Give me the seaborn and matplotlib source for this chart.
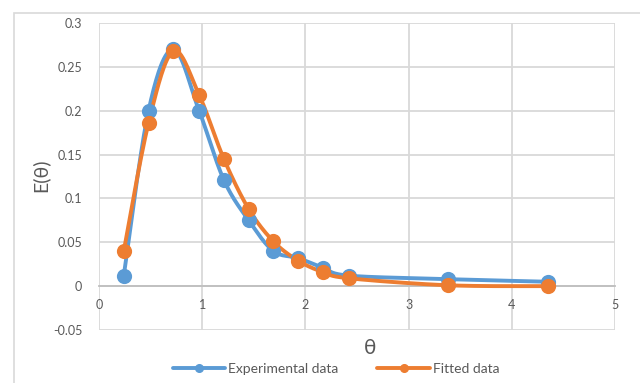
import numpy as np
import pandas as pd
import matplotlib
matplotlib.use("Agg")
import matplotlib.pyplot as plt
import seaborn as sns
from matplotlib.lines import Line2D
from matplotlib.patches import Rectangle

# ---- data ----
theta = [0.24, 0.48, 0.72, 0.97, 1.21, 1.45, 1.69, 1.93, 2.17, 2.42, 3.38, 4.35]
exp_E = [0.012, 0.200, 0.270, 0.200, 0.121, 0.075, 0.040, 0.032, 0.021, 0.012, 0.008, 0.005]
fit_E = [0.040, 0.186, 0.268, 0.218, 0.145, 0.088, 0.051, 0.029, 0.016, 0.009, 0.001, 0.000]
series_names = ["Experimental data", "Fitted data"]
x_ticks = [0, 1, 2, 3, 4, 5]
y_ticks = [-0.05, 0, 0.05, 0.1, 0.15, 0.2, 0.25, 0.3]
x_label = "θ"
y_label = "E(θ)"

BLUE = "#5B9BD5"
ORANGE = "#ED7D31"
TXT = "#595959"
GRID = "#D9D9D9"

sns.set_theme(style="white")
plt.rcParams["font.family"] = ["Lato", "DejaVu Sans"]


def smooth(x, y, n=30):
    """Excel-style smoothed line (Bezier through the points)."""
    P = np.column_stack([np.asarray(x, float), np.asarray(y, float)])
    out = []
    for i in range(len(P) - 1):
        p0 = P[i - 1] if i > 0 else P[i]
        p1, p2 = P[i], P[i + 1]
        p3 = P[i + 2] if i + 2 < len(P) else P[i + 1]
        c1 = p1 + (p2 - p0) / 6
        c2 = p2 - (p3 - p1) / 6
        t = np.linspace(0, 1, n)[:, None]
        seg = (1 - t) ** 3 * p1 + 3 * (1 - t) ** 2 * t * c1 + 3 * (1 - t) * t ** 2 * c2 + t ** 3 * p2
        out.append(seg if i == 0 else seg[1:])
    return np.vstack(out)


df = pd.DataFrame({"theta": theta * 2,
                   "E": exp_E + fit_E,
                   "series": [series_names[0]] * len(theta) + [series_names[1]] * len(theta)})

fig = plt.figure(figsize=(6.4, 3.83), dpi=100)
ax = fig.add_axes([99 / 640, 1 - 330 / 383, (615 - 99) / 640, (330 - 23) / 383])

# outer chart border
fig.patches.append(Rectangle((14 / 640, -0.1), 1.2, 1 - 13 / 383 + 0.1, transform=fig.transFigure,
                             fill=False, edgecolor="#D9D9D9", lw=1.2, zorder=0))

for name, col in zip(series_names, [BLUE, ORANGE]):
    sub = df[df["series"] == name]
    curve = smooth(sub["theta"], sub["E"])
    sns.lineplot(x=curve[:, 0], y=curve[:, 1], sort=False, estimator=None, ax=ax,
                 color=col, lw=2.8, zorder=3)
    sns.scatterplot(data=sub, x="theta", y="E", ax=ax, color=col, edgecolor=col,
                    s=120, linewidth=0, zorder=4, legend=False)

ax.set_xlim(0, 5)
ax.set_ylim(-0.05, 0.3)
ax.set_xticks(x_ticks)
ax.set_yticks(y_ticks)
ax.set_xticklabels([str(v) for v in x_ticks])
ax.set_yticklabels(["-0.05", "0", "0.05", "0.1", "0.15", "0.2", "0.25", "0.3"])
ax.grid(True, color=GRID, lw=1.3, zorder=0)
ax.set_axisbelow(True)
for s in ["top", "right", "left"]:
    ax.spines[s].set_visible(False)
ax.spines["bottom"].set_position(("data", 0))
ax.spines["bottom"].set_color("#BFBFBF")
ax.spines["bottom"].set_linewidth(1.3)
ax.spines["bottom"].set_zorder(1)
ax.tick_params(axis="both", length=0, labelsize=9, labelcolor=TXT)
ax.tick_params(axis="y", pad=12)
ax.tick_params(axis="x", pad=9)

ax.set_xlabel("")
ax.set_ylabel("")
fig.text(370 / 640, 1 - 348 / 383, x_label, ha="center", va="center", fontsize=15, color=TXT)
fig.text(40 / 640, 1 - 175 / 383, y_label, ha="center", va="center", fontsize=14, color=TXT,
         rotation=90)

handles = [Line2D([0], [0], color=c, lw=2.8, marker="o", markersize=5.5) for c in [BLUE, ORANGE]]
fig.legend(handles, series_names, loc="center", bbox_to_anchor=(336 / 640, 1 - 369 / 383), ncol=2,
           frameon=False, fontsize=10, labelcolor=TXT, handlelength=3.8, columnspacing=2.8,
           handletextpad=0.2)

fig.savefig("out.png", dpi=100)
